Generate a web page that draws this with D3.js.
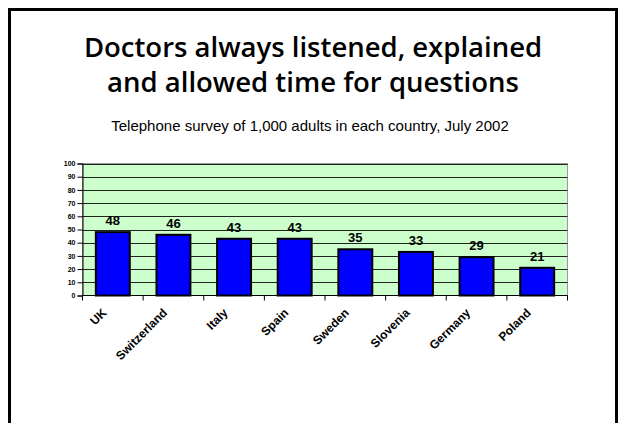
<!DOCTYPE html>
<html><head><meta charset="utf-8">
<script src="https://cdn.jsdelivr.net/npm/d3@7"></script>
<style>body{margin:0;background:#fff}svg{display:block}</style>
</head><body><svg id="c" width="619" height="423"></svg>
<script>
const countries = ["UK","Switzerland","Italy","Spain","Sweden","Slovenia","Germany","Poland"];
const values = [48,46,43,43,35,33,29,21];
const yTicks = [0,10,20,30,40,50,60,70,80,90,100];
const titleLines = ["Doctors always listened, explained","and allowed time for questions"];
const subtitle = "Telephone survey of 1,000 adults in each country, July 2002";

const svg = d3.select("#c");
svg.append("rect").attr("x",9.5).attr("y",9.5).attr("width",607).attr("height",430)
  .attr("fill","none").attr("stroke","#000").attr("stroke-width",3);

svg.append("g").selectAll("text").data(titleLines).join("text")
  .attr("x",313).attr("y",(d,i)=>57+i*35).attr("text-anchor","middle")
  .attr("font-family","Open Sans, sans-serif").attr("font-size",27.5).attr("font-weight",600)
  .attr("fill","#000").text(d=>d);
svg.append("text").attr("x",310).attr("y",131).attr("text-anchor","middle")
  .attr("font-family","Liberation Sans, Arial, sans-serif").attr("font-size",15)
  .text(subtitle);

const m = {l:82.5,r:567.5,t:163.5,b:295.5};
const x = d3.scaleBand().domain(countries).range([m.l,m.r]).paddingInner(0.44).paddingOuter(0.22);
const xb = d3.scaleBand().domain(countries).range([m.l,m.r]);
const y = d3.scaleLinear().domain([0,100]).range([m.b,m.t]);

svg.append("rect").attr("x",m.l).attr("y",m.t).attr("width",m.r-m.l).attr("height",m.b-m.t)
  .attr("fill","#ccffcc").attr("stroke","#999").attr("stroke-width",1);
svg.append("g").selectAll("line").data(yTicks.filter(d=>d>0)).join("line")
  .attr("x1",m.l).attr("x2",m.r).attr("y1",d=>Math.round(y(d))+0.5).attr("y2",d=>Math.round(y(d))+0.5)
  .attr("stroke","#222").attr("stroke-width",1.2);

svg.append("g").selectAll("rect").data(values).join("rect")
  .attr("x",(d,i)=>x(countries[i])).attr("y",d=>y(d)).attr("width",x.bandwidth())
  .attr("height",d=>y(0)-y(d)).attr("fill","#0000ff").attr("stroke","#000").attr("stroke-width",2);

svg.append("g").selectAll("text").data(values).join("text")
  .attr("x",(d,i)=>x(countries[i])+x.bandwidth()/2).attr("y",d=>y(d)-7)
  .attr("text-anchor","middle").attr("font-family","Liberation Sans, Arial, sans-serif")
  .attr("font-weight","bold").attr("font-size",13).text(d=>d);

const ya = svg.append("g").attr("transform",`translate(${m.l},0)`)
  .call(d3.axisLeft(y).tickValues(yTicks).tickSize(5).tickPadding(2));
ya.select(".domain").attr("stroke","#000");
ya.selectAll("text").attr("font-family","Liberation Sans, Arial, sans-serif").attr("font-weight","bold").attr("font-size",7);

const xa = svg.append("g").attr("transform",`translate(0,${m.b})`);
xa.append("line").attr("x1",m.l).attr("x2",m.r).attr("stroke","#000");
xa.selectAll("line.t").data(countries.concat(["end"])).join("line").attr("class","t")
  .attr("x1",(d,i)=>m.l+i*xb.bandwidth()).attr("x2",(d,i)=>m.l+i*xb.bandwidth())
  .attr("y1",0).attr("y2",5).attr("stroke","#000");
xa.selectAll("text").data(countries).join("text")
  .attr("transform",d=>`translate(${xb(d)+xb.bandwidth()/2-5.5},18) rotate(-45)`)
  .attr("text-anchor","end").attr("font-family","Liberation Sans, Arial, sans-serif")
  .attr("font-weight","bold").attr("font-size",12).text(d=>d);
</script></body></html>
